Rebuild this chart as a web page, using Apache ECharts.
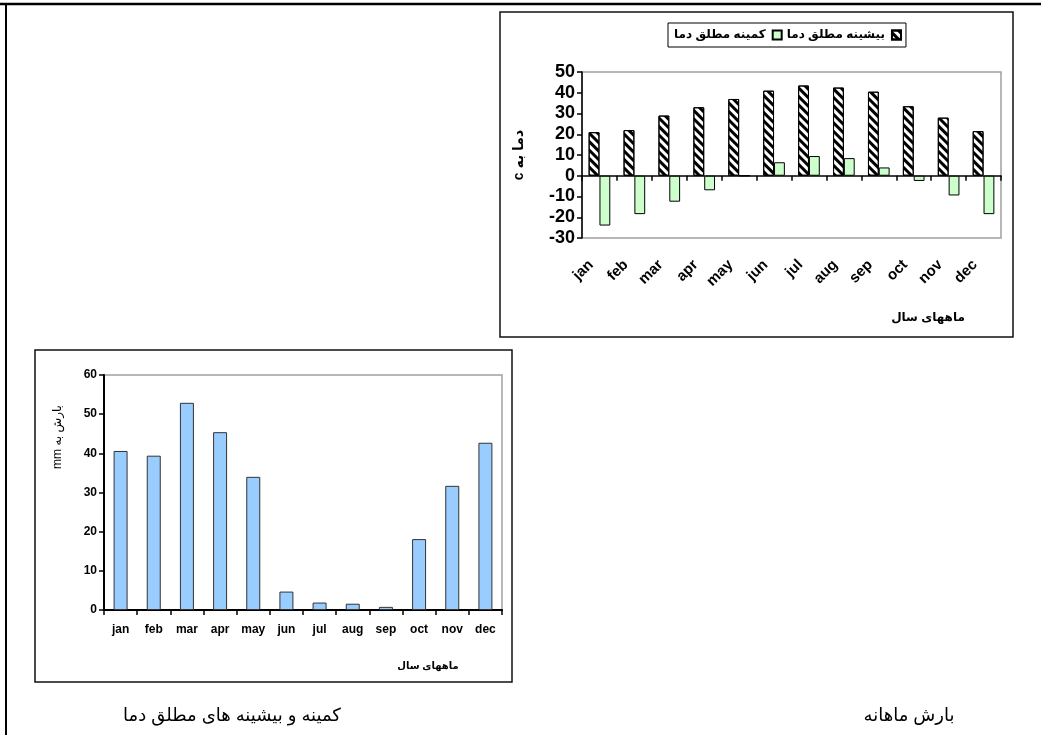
<!DOCTYPE html>
<html><head><meta charset="utf-8">
<script src="https://cdn.jsdelivr.net/npm/echarts@6/dist/echarts.min.js"></script>
<style>html,body{margin:0;padding:0;background:#fff}#c{width:1041px;height:735px}</style>
</head><body><div id="c"></div>
<script>
// ---- data ----
const months = ['jan','feb','mar','apr','may','jun','jul','aug','sep','oct','nov','dec'];
const tempMax = [21, 22, 29, 33, 37, 41, 43.5, 42.5, 40.5, 33.5, 28, 21.5];
const tempMin = [-24, -18.5, -12.5, -7, 0, 6.5, 9.5, 8.5, 4, -2.5, -9.5, -18.5];
const precip = [40.6, 39.4, 52.9, 45.4, 34, 4.7, 1.9, 1.6, 0.8, 18.1, 31.7, 42.7];
const tempAxis = [-30, 50, 10];
const precipAxis = [0, 60, 10];
const nameMax = 'بیشینه مطلق دما';
const nameMin = 'کمینه مطلق دما';
const tempYName = 'دما به c';
const precipYName = 'بارش به mm';
const xName = 'ماههای سال';
const caption1 = 'بارش ماهانه';
const caption2 = 'کمینه و بیشینه های مطلق دما';

const RLE = '\u202B', PDF = '\u202C';
const FONT = 'Arial, "Liberation Sans", "DejaVu Sans", sans-serif';
const chart = echarts.init(document.getElementById('c'), null, {renderer: 'canvas'});

chart.setOption({
  animation: false,
  textStyle: {fontFamily: FONT},
  grid: [
    {left: 582, top: 72, width: 419, height: 166, show: true, borderColor: '#a0a0a0', borderWidth: 1.5, backgroundColor: 'transparent'},
    {left: 104, top: 375, width: 398, height: 235, show: true, borderColor: '#a0a0a0', borderWidth: 1.5, backgroundColor: 'transparent'}
  ],
  legend: {
    left: 668, top: 23, align: 'right', orient: 'horizontal',
    data: [nameMin, nameMax], icon: 'rect',
    borderColor: '#000', borderWidth: 1, backgroundColor: '#fff',
    padding: [6, 4, 6, 6], itemGap: 4, itemWidth: 9, itemHeight: 9,
    textStyle: {fontFamily: FONT, fontWeight: 'bold', fontSize: 12, color: '#000', padding: [0, 2, 0, 0]}
  },
  xAxis: [
    {gridIndex: 0, type: 'category', data: months,
      axisLine: {onZero: true, lineStyle: {color: '#000', width: 1.5}},
      axisTick: {show: true, length: 5, lineStyle: {color: '#000', width: 1.5}},
      axisLabel: {show: false}, splitLine: {show: false}},
    {gridIndex: 0, type: 'category', data: months, position: 'bottom',
      axisLine: {show: false, onZero: false}, axisTick: {show: false}, splitLine: {show: false},
      axisLabel: {rotate: 45, margin: 16, padding: [0, 12, 0, 0], fontFamily: FONT, fontWeight: 'bold', fontSize: 15, color: '#000', interval: 0}},
    {gridIndex: 1, type: 'category', data: months,
      axisLine: {onZero: true, lineStyle: {color: '#000', width: 2}},
      axisTick: {show: true, length: 5, lineStyle: {color: '#000', width: 1.5}},
      axisLabel: {margin: 14, fontFamily: FONT, fontWeight: 'bold', fontSize: 12, color: '#000', interval: 0},
      splitLine: {show: false}}
  ],
  yAxis: [
    {gridIndex: 0, type: 'value', min: tempAxis[0], max: tempAxis[1], interval: tempAxis[2],
      axisLine: {show: true, lineStyle: {color: '#000', width: 1.5}},
      axisTick: {show: true, length: 5, lineStyle: {color: '#000', width: 1.5}},
      axisLabel: {margin: 7, fontFamily: FONT, fontWeight: 'bold', fontSize: 18, color: '#000'},
      splitLine: {show: false},
      name: RLE + tempYName + PDF, nameLocation: 'middle', nameGap: 56, nameRotate: 90,
      nameTextStyle: {fontFamily: FONT, fontWeight: 'bold', fontSize: 14, color: '#000'}},
    {gridIndex: 1, type: 'value', min: precipAxis[0], max: precipAxis[1], interval: precipAxis[2],
      axisLine: {show: true, lineStyle: {color: '#000', width: 2}},
      axisTick: {show: true, length: 5, lineStyle: {color: '#000', width: 1.5}},
      axisLabel: {margin: 7, fontFamily: FONT, fontWeight: 'bold', fontSize: 12, color: '#000'},
      splitLine: {show: false}}
  ],
  series: [
    {name: nameMax, type: 'bar', xAxisIndex: 0, yAxisIndex: 0, data: tempMax,
      barGap: '0%', barCategoryGap: '38%',
      itemStyle: {color: '#fff', borderColor: '#000', borderWidth: 1,
        decal: {symbol: 'rect', symbolSize: 1, dashArrayX: [1, 0], dashArrayY: [3, 2.5], rotation: Math.PI / 4, color: '#000'}}},
    {name: nameMin, type: 'bar', xAxisIndex: 0, yAxisIndex: 0, data: tempMin,
      itemStyle: {color: '#ccffcc', borderColor: '#000', borderWidth: 1}},
    {name: 'precip', type: 'bar', xAxisIndex: 2, yAxisIndex: 1, data: precip, barWidth: 14,
      itemStyle: {color: '#99ccff', borderColor: '#333', borderWidth: 1}}
  ],
  graphic: [
    {type: 'line', shape: {x1: 0, y1: 4, x2: 1041, y2: 4}, style: {stroke: '#000', lineWidth: 2.5}, silent: true},
    {type: 'line', shape: {x1: 6, y1: 3, x2: 6, y2: 735}, style: {stroke: '#000', lineWidth: 2}, silent: true},
    {type: 'rect', shape: {x: 500, y: 12, width: 513, height: 325}, style: {fill: 'none', stroke: '#111', lineWidth: 1.5}, silent: true, z: -1},
    {type: 'rect', shape: {x: 35, y: 350, width: 477, height: 332}, style: {fill: 'none', stroke: '#111', lineWidth: 1.5}, silent: true, z: -1},
    {type: 'text', x: 58, y: 437, rotation: Math.PI / 2,
      style: {text: RLE + precipYName + PDF, fill: '#000', font: '12px ' + FONT, textAlign: 'center', textVerticalAlign: 'middle'}},
    {type: 'text', x: 928, y: 318,
      style: {text: xName, fill: '#000', font: 'bold 12px ' + FONT, textAlign: 'center', textVerticalAlign: 'middle'}},
    {type: 'text', x: 428, y: 666,
      style: {text: xName, fill: '#000', font: 'bold 10px ' + FONT, textAlign: 'center', textVerticalAlign: 'middle'}},
    {type: 'text', x: 909, y: 716,
      style: {text: caption1, fill: '#000', font: '18px ' + FONT, textAlign: 'center', textVerticalAlign: 'middle'}},
    {type: 'text', x: 232, y: 716,
      style: {text: caption2, fill: '#000', font: '18px ' + FONT, textAlign: 'center', textVerticalAlign: 'middle'}}
  ]
});
</script></body></html>
